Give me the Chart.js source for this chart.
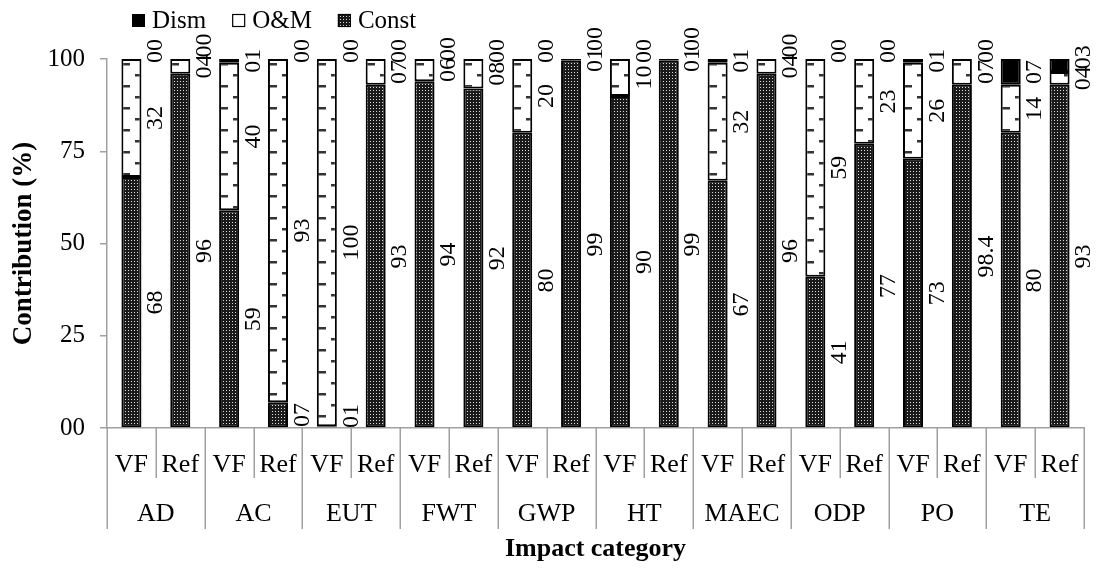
<!DOCTYPE html>
<html>
<head>
<meta charset="utf-8">
<script src="https://cdn.jsdelivr.net/npm/chart.js@4.4.1/dist/chart.umd.min.js"></script>
<style>
html,body{margin:0;padding:0;background:#fff;}
#wrap{width:1098px;height:585px;position:relative;}
</style>
</head>
<body>
<div id="wrap"><canvas id="c" width="1098" height="585"></canvas></div>
<script>
// ---- data ----
const groups = ['AD','AC','EUT','FWT','GWP','HT','MAEC','ODP','PO','TE'];
const subLabels = ['VF','Ref'];
const seriesNames = ['Const','O&M','Dism'];
const constVals = [68,96, 59,7, 0.5,93, 94,92, 80,99.5, 90,99.5, 67,96, 41,77, 73,93, 80,93];
const omVals    = [32,4, 40,93, 99.5,7, 6,8, 20,0.5, 10,0.5, 32,4, 59,23, 26,7, 13,3.5];
const dismVals  = [0,0, 1,0, 0,0, 0,0, 0,0, 0,0, 1,0, 0,0, 1,0, 7,3.5];
const constLabels = ['68','96','59','07','01','93','94','92','80','99','90','99','67','96','41','77','73','98.4','80','93'];
const omLabels    = ['32','04','40','93','100','07','06','08','20','01','10','01','32','04','59','23','26','07','14','04'];
const dismLabels  = ['00','00','01','00','00','00','00','00','00','00','00','00','01','00','00','00','01','00','07','03'];
const yTickLabels = ['00','25','50','75','100'];

const xLabels = [];
groups.forEach(g => subLabels.forEach(s => xLabels.push(s)));

const FONT = '"Liberation Serif", "Times New Roman", serif';
const BAR_PCT = 0.41;

// ---- patterns ----
function constTile(){
  const c = document.createElement('canvas'); c.width = 3; c.height = 3;
  const g = c.getContext('2d');
  g.fillStyle = '#1a1a1a'; g.fillRect(0,0,3,3);
  g.fillStyle = '#dcdcdc'; g.fillRect(1,1,1,1);
  return c;
}
function omTile(){
  const c = document.createElement('canvas'); c.width = 20; c.height = 22;
  const g = c.getContext('2d');
  g.fillStyle = '#ffffff'; g.fillRect(0,0,20,22);
  g.fillStyle = '#333333';
  g.fillRect(1,4,8,2.5);
  g.fillRect(14,15,6,2.5);
  return c;
}
const tiles = {c: constTile(), o: omTile()};

function barPattern(key, fallback){
  return function(ctx){
    const chart = ctx.chart;
    const xs = chart.scales && chart.scales.x;
    if (ctx.dataIndex === undefined || !xs || !xs.width) return fallback;
    const slot = xs.width / xLabels.length;
    const bw = slot * BAR_PCT;
    const px = xs.getPixelForValue(ctx.dataIndex);
    const p = chart.ctx.createPattern(tiles[key], 'repeat');
    if (p.setTransform) p.setTransform(new DOMMatrix().translate(Math.round(px - bw/2), chart.chartArea ? chart.chartArea.top : 59));
    return p;
  };
}

// ---- plugins ----
const segLabels = {
  id: 'segLabels',
  afterDatasetsDraw(chart){
    const ctx = chart.ctx, xs = chart.scales.x, ys = chart.scales.y;
    const slot = xs.width / xLabels.length;
    const vals = [constVals, omVals, dismVals];
    const labs = [constLabels, omLabels, dismLabels];
    ctx.save();
    ctx.font = '24px ' + FONT;
    ctx.fillStyle = '#000';
    ctx.textAlign = 'center';
    ctx.textBaseline = 'middle';
    for (let i = 0; i < xLabels.length; i++){
      let base = 0, prevY = null, prevHalf = 0;
      const x = xs.getPixelForValue(i) + slot/2;
      for (let s = 0; s < 3; s++){
        const v = vals[s][i], txt = labs[s][i];
        const mid = base + v/2; base += v;
        const half = ctx.measureText(txt).width / 2;
        let y = ys.getPixelForValue(mid);
        y = Math.min(y, ys.bottom - half);
        if (v === 0) y = Math.min(y, ys.getPixelForValue(base) - half + 4);
        if (prevY !== null) y = Math.min(y, prevY - prevHalf - half + 3);
        ctx.save();
        ctx.translate(x, y);
        ctx.rotate(-Math.PI/2);
        ctx.fillText(txt, 0, 0);
        ctx.restore();
        prevY = y; prevHalf = half;
      }
    }
    ctx.restore();
  }
};

const catAxis = {
  id: 'catAxis',
  afterDraw(chart){
    const ctx = chart.ctx, xs = chart.scales.x;
    const n = xLabels.length;
    const slot = xs.width / n;
    const top = chart.chartArea.bottom;
    ctx.save();
    ctx.strokeStyle = '#a0a0a0';
    ctx.lineWidth = 1.5;
    for (let k = 0; k <= n; k++){
      const x = Math.round(xs.getPixelForValue(0) - slot/2 + k*slot) + 0.25;
      ctx.beginPath();
      ctx.moveTo(x, top);
      ctx.lineTo(x, k % 2 === 0 ? top + 101 : top + 50);
      ctx.stroke();
    }
    ctx.fillStyle = '#000';
    ctx.textAlign = 'center';
    ctx.textBaseline = 'alphabetic';
    ctx.font = '26px ' + FONT;
    for (let i = 0; i < n; i++){
      ctx.fillText(xLabels[i], xs.getPixelForValue(i), top + 44);
    }
    for (let g = 0; g < groups.length; g++){
      const cx = (xs.getPixelForValue(2*g) + xs.getPixelForValue(2*g+1)) / 2;
      ctx.fillText(groups[g], cx, top + 93);
    }
    ctx.restore();
  }
};

const legendPlugin = {
  id: 'customLegend',
  afterDraw(chart){
    const ctx = chart.ctx;
    ctx.save();
    ctx.font = '25px ' + FONT;
    ctx.textBaseline = 'alphabetic';
    let x = chart.chartArea.left + 25;
    const boxTop = 14, box = 13, baseY = 28;
    const order = [2, 1, 0];
    order.forEach(di => {
      ctx.save();
      if (di === 2){ ctx.fillStyle = '#000'; ctx.fillRect(x, boxTop, box, box); }
      else if (di === 1){
        ctx.fillStyle = '#fff'; ctx.fillRect(x, boxTop, box, box);
        ctx.strokeStyle = '#000'; ctx.lineWidth = 1.2; ctx.strokeRect(x+0.5, boxTop+0.5, box-1, box-1);
      } else {
        const p = ctx.createPattern(tiles.c, 'repeat');
        ctx.fillStyle = p; ctx.fillRect(x, boxTop, box, box);
        ctx.strokeStyle = '#000'; ctx.lineWidth = 1.2; ctx.strokeRect(x+0.5, boxTop+0.5, box-1, box-1);
      }
      ctx.restore();
      x += box + 7;
      ctx.fillStyle = '#000';
      ctx.fillText(seriesNames[di], x, baseY);
      x += ctx.measureText(seriesNames[di]).width + 26;
    });
    ctx.restore();
  }
};

// ---- chart ----
const common = {borderColor: '#000', borderWidth: 2, borderSkipped: false, barPercentage: BAR_PCT, categoryPercentage: 1.0};
new Chart(document.getElementById('c'), {
  type: 'bar',
  data: {
    labels: xLabels,
    datasets: [
      Object.assign({label: seriesNames[0], data: constVals, backgroundColor: barPattern('c', '#333')}, common),
      Object.assign({label: seriesNames[1], data: omVals, backgroundColor: barPattern('o', '#fff')}, common),
      Object.assign({label: seriesNames[2], data: dismVals, backgroundColor: '#000'}, common)
    ]
  },
  options: {
    responsive: false,
    animation: false,
    devicePixelRatio: 1,
    layout: {padding: {left: 0, right: 14, top: 59, bottom: 0}},
    plugins: {legend: {display: false}, tooltip: {enabled: false}},
    scales: {
      x: {
        stacked: true,
        afterFit(s){ s.height = 157; },
        ticks: {display: false},
        grid: {display: false},
        border: {display: true, color: '#a0a0a0', width: 1.5},
        title: {display: true, text: 'Impact category', color: '#000',
                font: {family: FONT, size: 26, weight: 'bold'}, padding: {top: 0, bottom: 20}}
      },
      y: {
        stacked: true,
        min: 0, max: 100,
        afterFit(s){ s.width = 107; },
        ticks: {stepSize: 25, color: '#000', padding: 15,
                font: {family: FONT, size: 25},
                callback: (v, i) => yTickLabels[i]},
        grid: {display: true, drawOnChartArea: false, drawTicks: true, tickLength: 7, color: '#a0a0a0', lineWidth: 1.5},
        border: {display: true, color: '#a0a0a0', width: 1.5},
        title: {display: true, text: 'Contribution (%)', color: '#000',
                font: {family: FONT, size: 27, weight: 'bold'}, padding: {top: 8, bottom: 0}}
      }
    }
  },
  plugins: [segLabels, catAxis, legendPlugin]
});
</script>
</body>
</html>
